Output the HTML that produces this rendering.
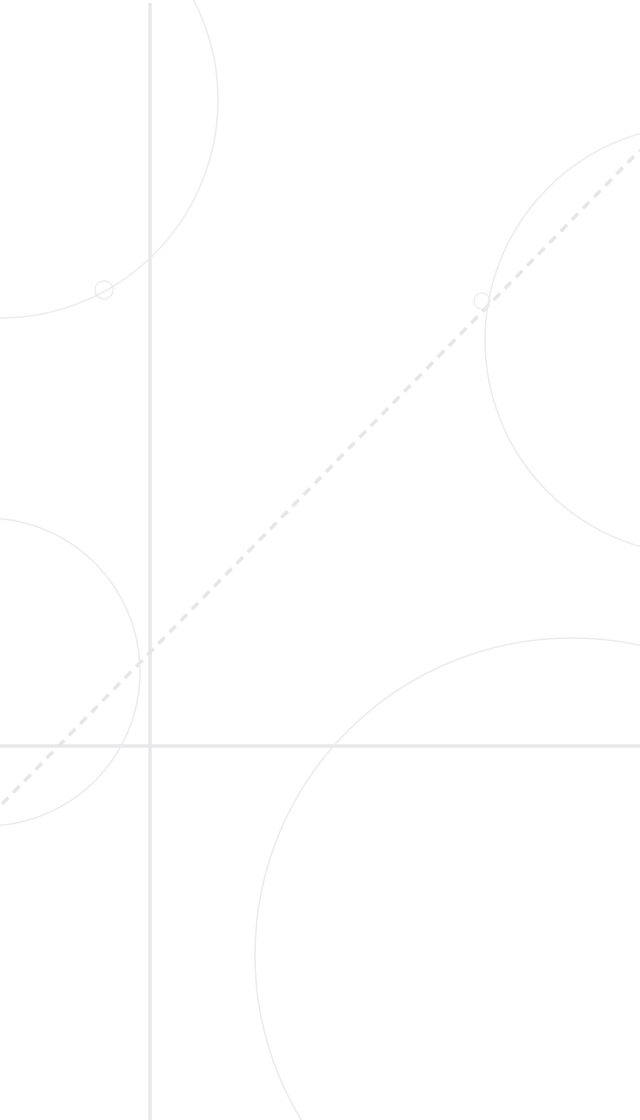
<!DOCTYPE html>
<html><head><meta charset="utf-8"><style>
html,body{margin:0;padding:0;background:#fff;width:640px;height:1120px;overflow:hidden}
svg{display:block;overflow:hidden}
</style></head><body>
<svg width="640" height="1120" viewBox="0 0 640 1120">
<line x1="150" y1="3" x2="150" y2="1120" stroke="#e6e8ea" stroke-width="3.5"/>
<line x1="0" y1="746" x2="640" y2="746" stroke="#e8e8ea" stroke-width="3.5"/>
<line x1="2" y1="804" x2="640" y2="150" stroke="#e4e6e8" stroke-width="3.5" stroke-dasharray="9,7"/>
<circle cx="0" cy="100" r="218" fill="none" stroke="#ebebf0" stroke-width="1.5"/>
<circle cx="104" cy="290" r="9" fill="none" stroke="#ebe8e8" stroke-width="1.2"/>
<circle cx="700" cy="340" r="215" fill="none" stroke="#ebebee" stroke-width="1.5"/>
<circle cx="482" cy="301" r="8" fill="none" stroke="#ebebee" stroke-width="1.2"/>
<circle cx="-14" cy="672" r="154" fill="none" stroke="#ebebef" stroke-width="1.5"/>
<circle cx="572" cy="955" r="317" fill="none" stroke="#ebebeb" stroke-width="1.5"/>
</svg>
</body></html>
